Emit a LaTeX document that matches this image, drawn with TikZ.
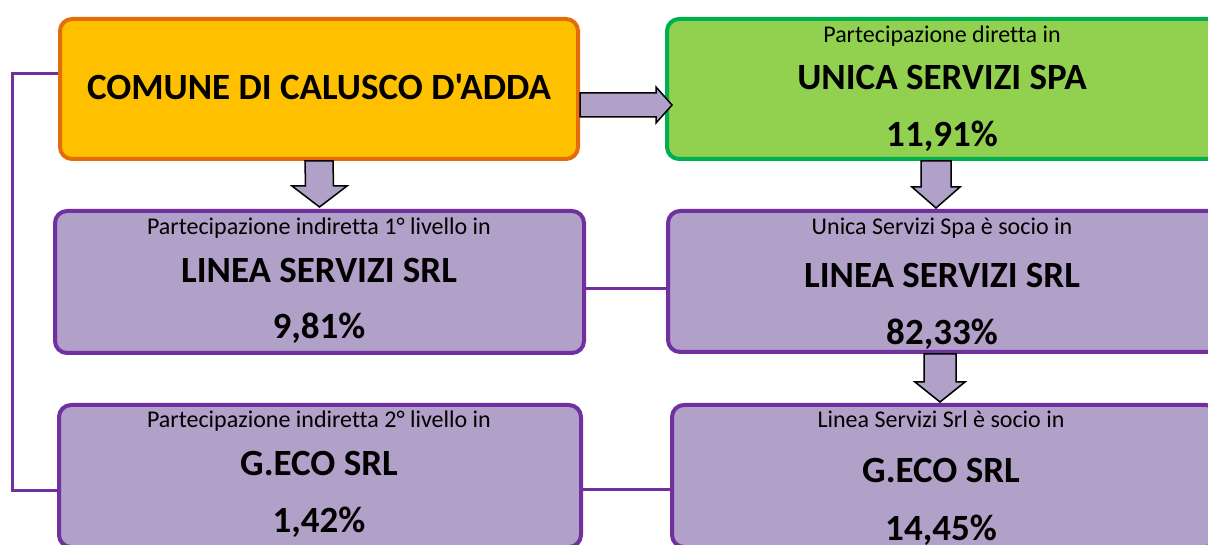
\documentclass[tikz,border=0pt]{standalone}
\usepackage{fontspec}
\setmainfont{Carlito}[Ligatures={TeXOff,NoCommon}]
\definecolor{arancio}{HTML}{FFC000}
\definecolor{bordoarancio}{HTML}{E46C0A}
\definecolor{verde}{HTML}{92D050}
\definecolor{bordoverde}{HTML}{00B050}
\definecolor{lilla}{HTML}{B1A0C7}
\definecolor{viola}{HTML}{7030A0}
\begin{document}
\begin{tikzpicture}[x=1pt, y=1pt,
  box/.style={rectangle, rounded corners=12pt, line width=4pt, draw=viola, fill=lilla},
  small/.style={anchor=base, font=\fontsize{24}{28}\selectfont},
  big/.style={anchor=base, font=\fontsize{37}{43}\selectfont\bfseries},
  freccia/.style={draw=black, line width=1.5pt, fill=lilla, line join=miter},
  link/.style={draw=viola, line width=3pt}]
\useasboundingbox (0,0) rectangle (1208,544);
\node[box, draw=bordoarancio, fill=arancio, minimum width=518pt, minimum height=140pt] (comune) at (319,455){};
\node[box, draw=bordoverde, fill=verde, minimum width=556pt, minimum height=140pt] (unica) at (945,455){};
\node[box, minimum width=529pt, minimum height=142pt] (lsl) at (319.5,262){};
\node[box, minimum width=554pt, minimum height=141pt] (lsr) at (945,262.5){};
\node[box, minimum width=546pt, minimum height=142pt] (gecor) at (945,68){};
\node[box, minimum width=522pt, minimum height=142pt] (gecol) at (320,68){};

\draw[link] ([yshift=15]comune.west) -- ++(-46,0) |- ([yshift=-14]gecol.west);
\draw[link] ([yshift=-7]lsl.east) -- ([yshift=-7]lsl.east -| lsr.west);
\draw[link] ([yshift=-13]gecol.east) -- ([yshift=-13]gecol.east -| gecor.west);

\draw[freccia] ([yshift=-4]comune.east) -- ([xshift=-9,yshift=-4]unica.west) -- ([xshift=-9,yshift=2]unica.west) -- ([xshift=7,yshift=-16]unica.west) -- ([xshift=-9,yshift=-34]unica.west) -- ([xshift=-9,yshift=-28]unica.west) -- ([yshift=-28]comune.east) -- cycle;
\draw[freccia] ([xshift=-14]comune.south) -- ([xshift=-14,yshift=23]lsl.north) -- ([xshift=-27.5,yshift=23]lsl.north) -- ([yshift=2]lsl.north) -- ([xshift=27.5,yshift=23]lsl.north) -- ([xshift=14,yshift=23]lsl.north) -- ([xshift=14]comune.south) -- cycle;
\draw[freccia] ([xshift=-24]unica.south) -- ([xshift=-24,yshift=22]lsr.north) -- ([xshift=-33,yshift=22]lsr.north) -- ([xshift=-9,yshift=1]lsr.north) -- ([xshift=15,yshift=22]lsr.north) -- ([xshift=6,yshift=22]lsr.north) -- ([xshift=6]unica.south) -- cycle;
\draw[freccia] ([xshift=-21]lsr.south) -- ([xshift=-21,yshift=21]gecor.north) -- ([xshift=-30,yshift=21]gecor.north) -- ([xshift=-5,yshift=1]gecor.north) -- ([xshift=20,yshift=21]gecor.north) -- ([xshift=11,yshift=21]gecor.north) -- ([xshift=11]lsr.south) -- cycle;

\node[big] (tcomune) at (319,444) {COMUNE DI CALUSCO D'ADDA};
\node[small] (sunica) at (942,501) {Partecipazione diretta in};
\node[big] (tunica) at (942,454) {UNICA SERVIZI SPA};
\node[big] (punica) at (942,397) {11,91\%};
\node[small] (slsl) at (319,309) {Partecipazione indiretta 1° livello in};
\node[big] (tlsl) at (319,261) {LINEA SERVIZI SRL};
\node[big] (plsl) at (319,205) {9,81\%};
\node[small] (slsr) at (942,309) {Unica Servizi Spa è socio in};
\node[big] (tlsr) at (942,256) {LINEA SERVIZI SRL};
\node[big] (plsr) at (942,199) {82,33\%};
\node[small] (sgecol) at (319,116) {Partecipazione indiretta 2° livello in};
\node[big] (tgecol) at (319,69) {G.ECO SRL};
\node[big] (pgecol) at (319,12) {1,42\%};
\node[small] (sgecor) at (941,117) {Linea Servizi Srl è socio in};
\node[big] (tgecor) at (941,62) {G.ECO SRL};
\node[big] (pgecor) at (941,4) {14,45\%};
\end{tikzpicture}
\end{document}
